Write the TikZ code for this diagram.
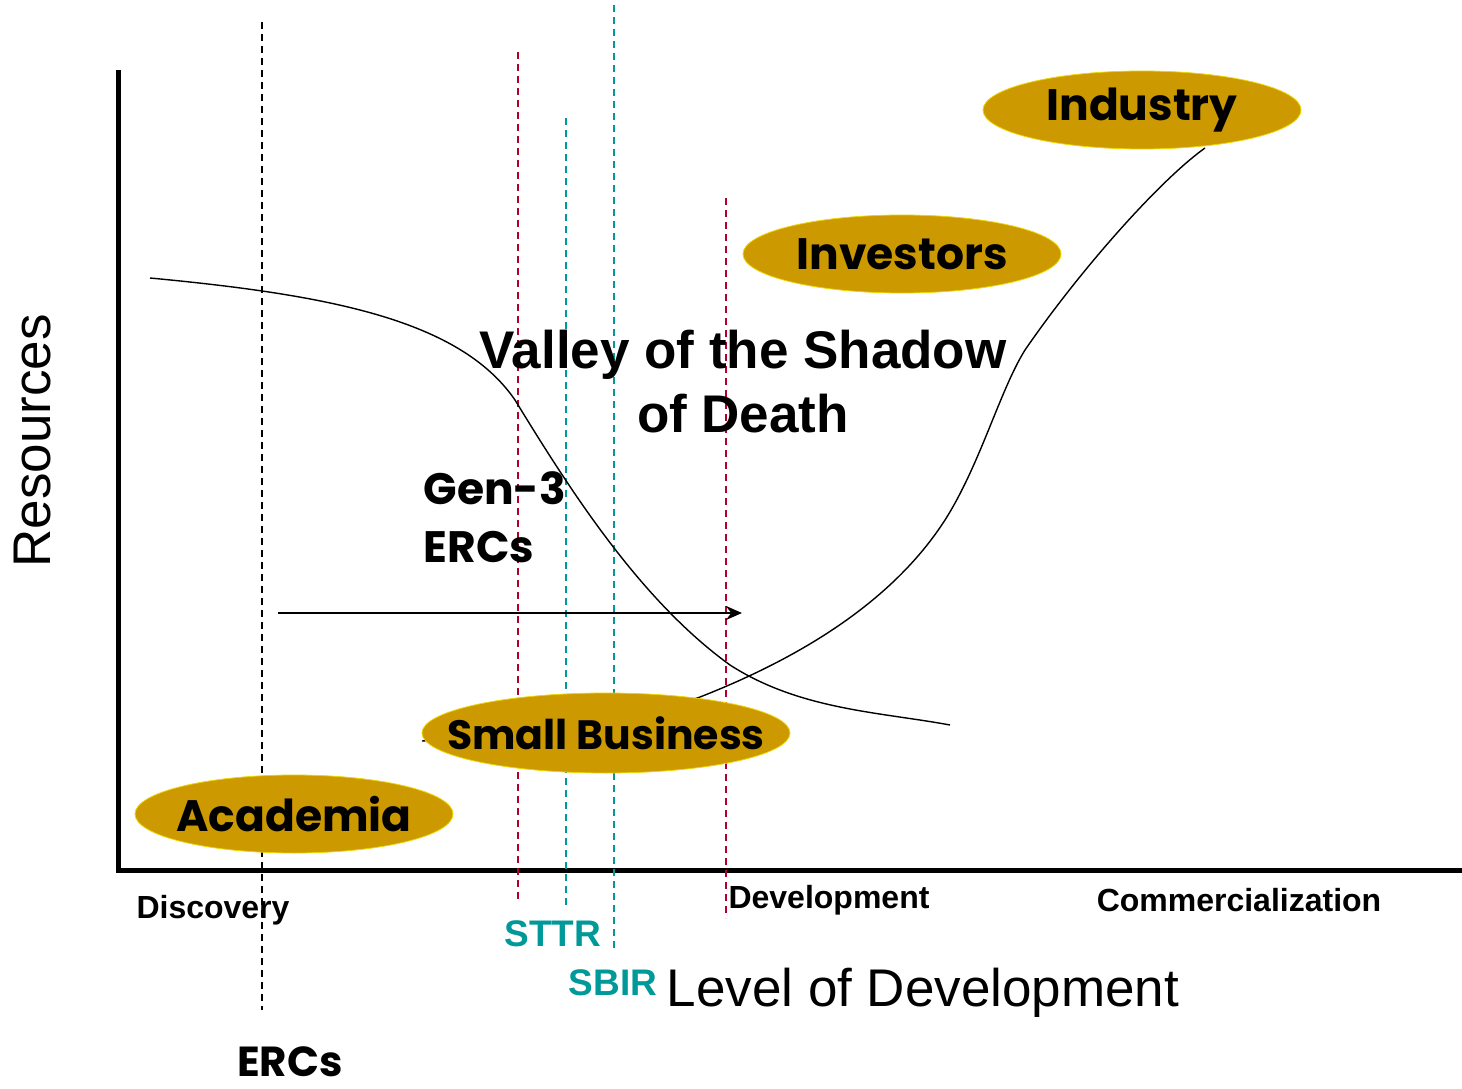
\documentclass[tikz,border=0pt]{standalone}
\usepackage{fontspec}
\usepackage{tikz}
\usetikzlibrary{arrows.meta, shapes.geometric}
\setmainfont{Liberation Sans}
\newfontfamily\comicfont{Poppins}
\definecolor{gold}{RGB}{204,153,0}
\definecolor{sbirteal}{RGB}{0,153,153}
\definecolor{gapred}{RGB}{180,0,40}
\tikzset{
  blob/.style={ellipse, fill=gold, draw=gold!40!yellow, line width=0.8,
    minimum width=318, minimum height=78, inner xsep=-60, inner ysep=-12,
    font=\comicfont\bfseries\fontsize{44}{48}\selectfont},
  stage/.style={font=\bfseries\fontsize{32}{36}\selectfont},
  program/.style={font=\bfseries\fontsize{37}{40}\selectfont, text=sbirteal},
  marker/.style={dashed, dash pattern=on 7pt off 5pt, line width=1.4}
}

\begin{document}
\begin{tikzpicture}[x=1pt, y=-1pt]
\useasboundingbox (0,0) rectangle (1462,1089);
% axes
\draw [line width=5] (118,70) -- (118,870) -- (1462,870);
% dashed markers
\draw [marker, black] (262,22) -- (262,1010);
\draw [marker, gapred] (518,52) -- (518,900);
\draw [marker, sbirteal] (566,118) -- (566,905);
\draw [marker, sbirteal] (614,5) -- (614,950);
\draw [marker, gapred] (726,198) -- (726,918);
% curves
\coordinate (fallstart) at (150,278);
\coordinate (fallend) at (950,725);
\coordinate (risestart) at (422,741);
\coordinate (riseend) at (1205,148);
\draw [line width=1.4] (fallstart) .. controls (330,295) and (460,320) .. (515,400)
  .. controls (570,490) and (640,600) .. (730,665)
  .. controls (800,710) and (880,712) .. (fallend);
\draw [line width=1.4] (risestart) .. controls (520,735) and (620,725) .. (700,697)
  .. controls (820,650) and (900,590) .. (945,520)
  .. controls (980,465) and (1000,390) .. (1025,350)
  .. controls (1080,270) and (1160,180) .. (riseend);
% arrow
\coordinate (gentail) at (278,613);
\coordinate (genhead) at (742,613);
\draw [line width=2.2, -{Stealth[length=16, width=14]}] (gentail) -- (genhead);
% players
\node [blob] (industry) at (1142,110) {Industry};
\node [blob] (investors) at (902,254) {Investors};
\node [blob, minimum width=368, minimum height=80, font=\comicfont\bfseries\fontsize{41}{44}\selectfont] (smallbiz) at (606,733) {Small Business};
\node [blob] (academia) at (294,814) {Academia};
% texts
\node [font=\bfseries\fontsize{53}{64}\selectfont, align=center] (valley) at (743,382) {Valley of the Shadow\\of Death};
\node [font=\comicfont\bfseries\fontsize{44}{58}\selectfont, align=left, anchor=north west] (gen3) at (420,468) {Gen-3\\ERCs};
\node [font=\fontsize{53}{56}\selectfont, rotate=90] (resources) at (33,441) {Resources};
\node [font=\fontsize{53}{56}\selectfont] (level) at (923,993) {Level of Development};
\node [stage] (discovery) at (213,910) {Discovery};
\node [stage] (development) at (829,900) {Development};
\node [stage] (commercial) at (1239,900) {Commercialization};
\node [program] (sttr) at (553,934) {STTR};
\node [program] (sbir) at (613,983) {SBIR};
\node [font=\comicfont\bfseries\fontsize{42}{46}\selectfont, inner sep=0, anchor=base] (ercs) at (290,1076) {ERCs};
\end{tikzpicture}
\end{document}
